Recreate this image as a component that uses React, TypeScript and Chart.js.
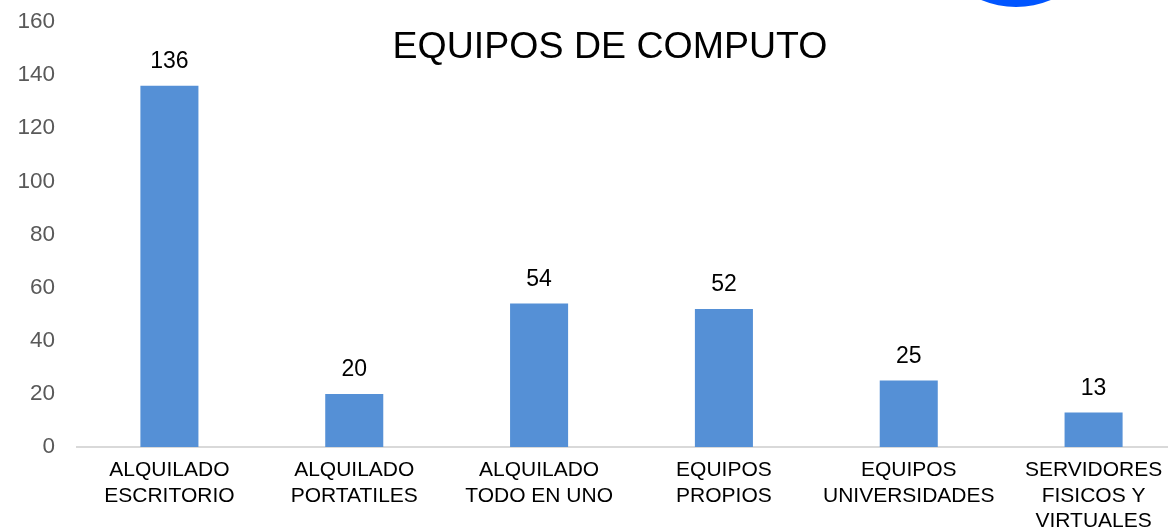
import React, { useEffect, useRef } from "react";
import { Chart, registerables } from "chart.js";

Chart.register(...registerables);

const categories: string[][] = [
  ["ALQUILADO", "ESCRITORIO"],
  ["ALQUILADO", "PORTATILES"],
  ["ALQUILADO", "TODO EN UNO"],
  ["EQUIPOS", "PROPIOS"],
  ["EQUIPOS", "UNIVERSIDADES"],
  ["SERVIDORES", "FISICOS Y", "VIRTUALES"],
];
const values: number[] = [136, 20, 54, 52, 25, 13];
const chartTitle = "EQUIPOS DE COMPUTO";
const yMin = 0;
const yMax = 160;
const yStep = 20;

const FONT = "'Liberation Sans', Arial, sans-serif";

const labelPlugin = {
  id: "valueLabels",
  afterDatasetsDraw(chart: any) {
    const ctx = chart.ctx;
    const meta = chart.getDatasetMeta(0);
    ctx.save();
    ctx.font = `23px ${FONT}`;
    ctx.fillStyle = "#000000";
    ctx.textAlign = "center";
    ctx.textBaseline = "middle";
    meta.data.forEach((bar: any, i: number) => {
      ctx.fillText(String(values[i]), bar.x, bar.y - 24);
    });
    ctx.restore();
  },
};

const titlePlugin = {
  id: "overlayTitle",
  afterDraw(chart: any) {
    const ctx = chart.ctx;
    ctx.save();
    ctx.font = `37.5px ${FONT}`;
    ctx.fillStyle = "#000000";
    ctx.textAlign = "center";
    ctx.textBaseline = "middle";
    ctx.fillText(chartTitle, 610, 48);
    ctx.restore();
  },
};

export default function App() {
  const ref = useRef<HTMLCanvasElement | null>(null);
  useEffect(() => {
    if (!ref.current) return;
    const chart = new Chart(ref.current, {
      type: "bar",
      data: {
        labels: categories,
        datasets: [
          {
            data: values,
            backgroundColor: "#5590D6",
            barPercentage: 0.314,
            categoryPercentage: 1,
          },
        ],
      },
      options: {
        animation: false,
        responsive: false,
        maintainAspectRatio: false,
        layout: { padding: { top: 22, right: 0, left: 0, bottom: 0 } },
        plugins: {
          legend: { display: false },
          title: { display: false },
          tooltip: { enabled: false },
        },
        scales: {
          x: {
            grid: { display: false, drawTicks: false },
            border: { display: true, color: "#D9D9D9", width: 2 },
            ticks: {
              color: "#000000",
              font: { family: FONT, size: 21, lineHeight: 1.2 },
              maxRotation: 0,
              minRotation: 0,
              autoSkip: false,
              padding: 11,
            },
            afterFit(scale: any) {
              scale.height = 82;
            },
          },
          y: {
            min: yMin,
            max: yMax,
            grid: { display: false, drawTicks: false },
            border: { display: false },
            ticks: {
              stepSize: yStep,
              color: "#595959",
              font: { family: FONT, size: 22.5 },
              padding: 22,
            },
            afterFit(scale: any) {
              scale.width = 77;
              scale.paddingTop = 0;
              scale.paddingBottom = 0;
            },
          },
        },
      },
      plugins: [labelPlugin, titlePlugin],
    });
    return () => chart.destroy();
  }, []);

  return (
    <div
      style={{
        position: "fixed",
        left: 0,
        top: 0,
        width: 1168,
        height: 529,
        overflow: "hidden",
        background: "#ffffff",
      }}
    >
      <canvas ref={ref} width={1186} height={529} style={{ display: "block" }} />
      <div
        style={{
          position: "absolute",
          left: 925,
          top: -175,
          width: 182,
          height: 182,
          borderRadius: "50%",
          background: "#0055FF",
        }}
      />
    </div>
  );
}
